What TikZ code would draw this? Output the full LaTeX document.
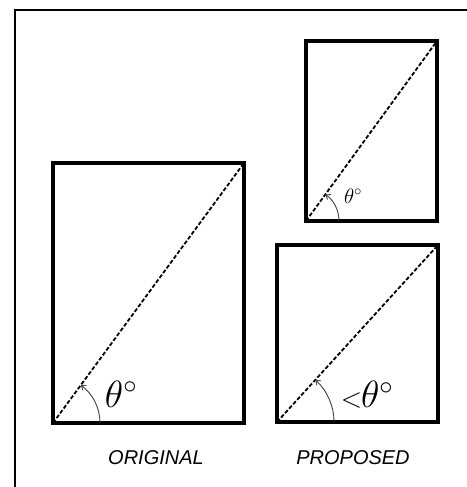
\RequirePackage{fix-cm}
\documentclass[tikz,border=0pt]{standalone}
\usepackage{fontspec}
\setsansfont{Liberation Sans}
\usetikzlibrary{arrows.meta}
\begin{document}
\begin{tikzpicture}[x=1pt,y=1pt,
  frame/.style={line width=1.8pt,line cap=rect},
  box/.style={draw,line width=4pt,inner sep=0pt,outer sep=0pt,anchor=south west,minimum width=#1},
  diag/.style={line width=1.8pt,dash pattern=on 4pt off 2pt},
  anglearc/.style={line width=0.9pt,draw=black!75,-{Straight Barb[length=4pt,width=6pt]}},
  captiontext/.style={font=\sffamily\itshape\fontsize{20}{24}\selectfont},
  biglab/.style={font=\fontsize{38}{42}\selectfont},
  smalllab/.style={font=\fontsize{21}{24}\selectfont}]
\useasboundingbox (0,0) rectangle (466,487);
\coordinate (ftop) at (466,477);
\coordinate (fcorner) at (15,477);
\coordinate (fbot) at (15,0);
\draw[frame] (ftop) -- (fcorner) -- (fbot);
% rectangles
\node[box=191pt,minimum height=260pt] (orig) at (53,64) {};
\node[box=131pt,minimum height=180pt] (tr) at (306,266) {};
\node[box=161pt,minimum height=177pt] (br) at (277,65) {};
% diagonals
\draw[diag] (orig.south west) -- (orig.north east);
\draw[diag] (tr.south west) -- (tr.north east);
\draw[diag] (br.south west) -- (br.north east);
% angle arcs
\draw[anglearc] (orig.south west) ++(47,0) arc[start angle=0,end angle=53.7,radius=47];
\draw[anglearc] (tr.south west) ++(33,0) arc[start angle=0,end angle=54,radius=33];
\draw[anglearc] (br.south west) ++(57,0) arc[start angle=0,end angle=47.7,radius=57];
% angle labels
\node[biglab] (lo) at (121,93) {$\theta^{\scriptstyle\circ}$};
\node[smalllab] (lt) at (353,291) {$\theta^{\scriptstyle\circ}$};
\node[biglab] (lb) at (367,92) {{\fontsize{28}{30}\selectfont$<$}\kern-1pt$\theta^{\scriptstyle\circ}$};
% captions
\node[captiontext] (co) at (156,29) {ORIGINAL};
\node[captiontext] (cp) at (353,29) {PROPOSED};
\end{tikzpicture}
\end{document}
